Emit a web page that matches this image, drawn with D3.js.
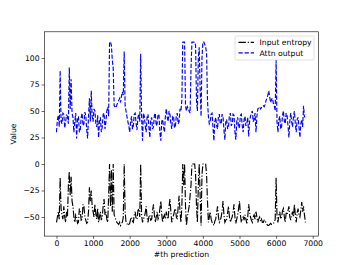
<!DOCTYPE html>
<html><head><meta charset="utf-8">
<script src="https://cdn.jsdelivr.net/npm/d3@7"></script>
<style>body{margin:0;background:#fff}svg{display:block}text{font-family:"DejaVu Sans",sans-serif}</style>
</head><body><svg id="c" width="354" height="265"></svg>
<script>
const xValues = d3.range(0, 6801, 25);
const attnOutput = [
30,42,46,35,88,40,38,48,47,34,40,46,45,38,91,52,80,48,44,30,
40,48,24,42,45,30,32,44,48,36,38,49,46,33,24,45,62,40,69,45,
40,52,50,38,35,46,25,40,44,30,35,47,48,33,40,50,54,45,115,115,
112,98,90,55,54,53,56,58,60,62,58,64,68,65,106,55,50,45,40,36,
30,40,45,33,36,47,48,38,32,44,47,40,104,45,22,48,45,36,30,44,
47,35,25,42,44,33,35,46,48,36,38,47,46,30,22,40,42,35,30,45,
52,44,40,50,47,38,33,45,45,34,36,46,48,38,40,52,50,60,115,115,
115,55,50,54,52,50,48,90,115,115,115,115,112,60,50,100,110,70,45,100,
115,115,113,110,105,60,45,38,40,47,48,35,22,40,44,36,33,45,47,38,
38,47,45,32,23,40,42,33,35,46,48,36,38,47,46,30,23,40,44,34,
35,46,47,36,30,42,45,36,38,44,26,40,45,48,50,40,42,48,30,45,
52,53,54,52,53,55,55,54,56,60,62,65,69,63,58,61,62,57,55,50,
98,40,30,42,45,33,35,46,50,40,38,48,46,36,25,40,48,40,35,45,
50,38,30,42,44,35,25,38,42,35,55,44,47];
const inputEntropy = [
-55,-50,-45,-52,-13,-42,-48,-52,-40,-50,-55,-45,-50,-20,-7,-30,-12,-35,-40,-50,
-55,-48,-50,-56,-55,-42,-45,-53,-52,-38,-40,-50,-53,-56,-55,-45,-22,-35,-25,-40,
-45,-50,-38,-47,-52,-42,-55,-50,-45,-53,-50,-40,-33,-48,-45,-52,-55,-30,0,-40,
-5,-45,0,-48,-50,-53,-55,-56,-57,-55,-58,-56,-55,-50,0,-45,-55,-56,-58,-57,
-56,-52,-50,-54,-55,-48,-45,-52,-52,-44,-42,-50,0,-48,-55,-52,-50,-46,-40,-50,
-55,-50,-48,-53,-52,-44,-38,-48,-55,-50,-45,-52,-50,-42,-35,-47,-55,-50,-48,-52,
-45,-50,-52,-40,-33,-45,-55,-52,-48,-44,-42,-50,-52,-40,-30,-45,-55,-40,0,-20,
0,-40,-58,-50,-45,-40,-30,-20,0,0,0,0,-10,-40,-55,-20,0,-30,-58,-10,
0,0,0,0,-10,-35,-55,-50,-45,-52,-55,-56,-58,-54,-52,-46,-40,-50,-55,-53,
-50,-44,-35,-48,-55,-53,-52,-46,-40,-50,-55,-52,-50,-45,-38,-50,-56,-52,-48,-42,
-35,-48,-55,-52,-50,-53,-48,-52,-56,-50,-38,-45,-50,-53,-55,-50,-48,-52,-45,-50,
-55,-52,-50,-54,-52,-55,-55,-53,-53,-56,-57,-58,-58,-57,-56,-57,-57,-56,-55,-52,
-13,-50,-55,-48,-45,-52,-50,-44,-42,-50,-55,-46,-48,-44,-40,-50,-53,-48,-45,-50,
-38,-48,-55,-46,-42,-48,-50,-44,-36,-45,-40,-48,-55];
const xTicks = [0,1000,2000,3000,4000,5000,6000,7000];
const yTicks = [-50,-25,0,25,50,75,100];
const seriesNames = ["Input entropy","Attn output"];

const L=44.3,R=318.6,T=31.8,B=236.1;
const svg=d3.select("#c");
const x=d3.scaleLinear().domain([-333,7161]).range([L,R]);
const y=d3.scaleLinear().domain([-68,124.7]).range([B,T]);
const fs=7.7;

const line=d3.line().x((d,i)=>x(xValues[i])).y(d=>y(d));
svg.append("path").datum(inputEntropy).attr("d",line).attr("fill","none")
  .attr("stroke","#000").attr("stroke-width",1.15).attr("stroke-dasharray","7.4,1.84,1.15,1.84");
svg.append("path").datum(attnOutput).attr("d",line).attr("fill","none")
  .attr("stroke","#0000ff").attr("stroke-width",1.15).attr("stroke-dasharray","4.26,1.84");

const xa=svg.append("g").attr("transform",`translate(0,${B})`)
  .call(d3.axisBottom(x).tickValues(xTicks).tickFormat(d3.format("d")).tickSize(2.7).tickPadding(2));
const ya=svg.append("g").attr("transform",`translate(${L},0)`)
  .call(d3.axisLeft(y).tickValues(yTicks).tickFormat(d=>d<0?"\u2212"+(-d):d).tickSize(2.7).tickPadding(2));
[xa,ya].forEach(a=>{a.select(".domain").remove();a.selectAll("line").attr("stroke","#000").attr("stroke-width",0.6);
  a.selectAll("text").attr("font-size",fs).attr("fill","#000").attr("font-family","DejaVu Sans");});
svg.append("rect").attr("x",L).attr("y",T).attr("width",R-L).attr("height",B-T)
  .attr("fill","none").attr("stroke","#000").attr("stroke-width",0.6);

svg.append("text").attr("x",(L+R)/2).attr("y",257).attr("text-anchor","middle").attr("font-size",fs).text("#th prediction");
svg.append("text").attr("transform",`translate(16,${(T+B)/2}) rotate(-90)`).attr("text-anchor","middle").attr("font-size",fs).text("Value");

const lg=svg.append("g");
lg.append("rect").attr("x",235).attr("y",36).attr("width",79).attr("height",24).attr("rx",1.5)
  .attr("fill","#fff").attr("fill-opacity",0.8).attr("stroke","#ccc").attr("stroke-width",0.6);
const styles=[{c:"#000",d:"7.4,1.84,1.15,1.84"},{c:"#0000ff",d:"4.26,1.84"}];
seriesNames.forEach((n,i)=>{
  const yy=42.3+i*10.5;
  lg.append("line").attr("x1",238.5).attr("x2",254).attr("y1",yy).attr("y2",yy)
    .attr("stroke",styles[i].c).attr("stroke-width",1.15).attr("stroke-dasharray",styles[i].d);
  lg.append("text").attr("x",259.5).attr("y",yy+2.8).attr("font-size",fs).text(n);
});
</script></body></html>
